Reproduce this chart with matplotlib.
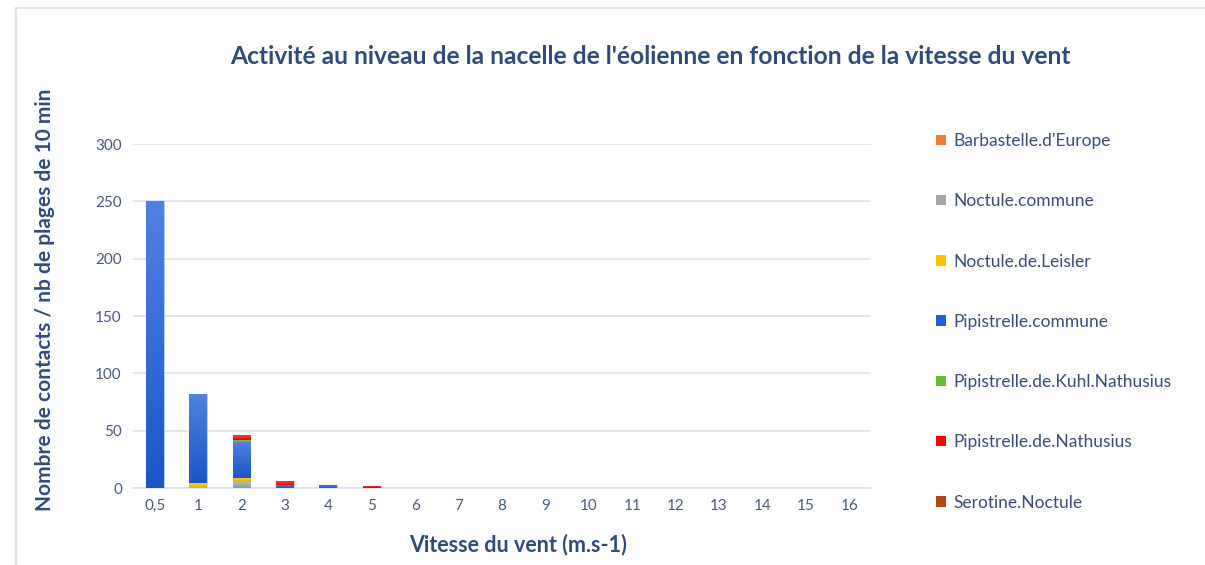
import matplotlib
matplotlib.use("Agg")
import matplotlib.pyplot as plt
import numpy as np
from matplotlib.patches import Rectangle
from matplotlib.colors import to_rgb

plt.rcParams['font.family'] = ['Lato', 'DejaVu Sans']

categories = ["0,5", "1", "2", "3", "4", "5", "6", "7", "8", "9", "10",
              "11", "12", "13", "14", "15", "16"]
species = ["Barbastelle.d'Europe", "Noctule.commune", "Noctule.de.Leisler",
           "Pipistrelle.commune", "Pipistrelle.de.Kuhl.Nathusius",
           "Pipistrelle.de.Nathusius", "Serotine.Noctule"]
barbastelle = [0, 0, 0, 0, 0, 0, 0, 0, 0, 0, 0, 0, 0, 0, 0, 0, 0]
noctule_commune = [0, 0, 5, 0, 0, 0, 0, 0, 0, 0, 0, 0, 0, 0, 0, 0, 0]
noctule_leisler = [0, 4, 4, 0, 0, 0, 0, 0, 0, 0, 0, 0, 0, 0, 0, 0, 0]
pipistrelle_commune = [250, 78, 31, 3, 2, 0, 0, 0, 0, 0, 0, 0, 0, 0, 0, 0, 0]
pipistrelle_kuhl = [0, 0, 2, 0, 0, 0, 0, 0, 0, 0, 0, 0, 0, 0, 0, 0, 0]
pipistrelle_nathusius = [0, 0, 3, 2, 0, 2, 0, 0, 0, 0, 0, 0, 0, 0, 0, 0, 0]
serotine = [0, 0, 1, 1, 1, 0, 0, 0, 0, 0, 0, 0, 0, 0, 0, 0, 0]
yticks = [0, 50, 100, 150, 200, 250, 300]

series = [barbastelle, noctule_commune, noctule_leisler, pipistrelle_commune,
          pipistrelle_kuhl, pipistrelle_nathusius, serotine]
colors = ["#ED7D31", "#A5A5A5", "#FFC000", "#1F5ED6", "#6CBE2C", "#FF0000", "#AE4A10"]

fig = plt.figure(figsize=(12.05, 5.65), dpi=100)
ax = fig.add_axes([133 / 1205, 1 - 488 / 565, (871 - 133) / 1205, (488 - 144) / 565])

x = np.arange(len(categories))
bottom = np.zeros(len(categories))
handles = []
for vals, col, name in zip(series, colors, species):
    v = np.array(vals, dtype=float)
    bars = ax.bar(x, v, width=0.41, bottom=bottom, color=col, edgecolor="#c3d4f3",
                  linewidth=0.6, label=name, zorder=3)
    # vertical gradient (lighter at top), clipped to each bar
    base = np.array(to_rgb(col))
    light = base + (1 - base) * 0.22
    dark = base * 0.92
    grad = np.linspace(0, 1, 64)[:, None, None]
    img = dark * (1 - grad) + light * grad
    for p in bars.patches:
        if p.get_height() <= 0:
            continue
        x0, y0 = p.get_x(), p.get_y()
        im = ax.imshow(img, extent=(x0, x0 + p.get_width(), y0, y0 + p.get_height()),
                       origin='lower', aspect='auto', zorder=3.5, interpolation='bilinear')
        im.set_clip_path(p)
    bottom += v
    handles.append(Rectangle((0, 0), 1, 1, facecolor=col, edgecolor="none"))

ax.set_xlim(-0.5, len(categories) - 0.5)
ax.set_ylim(0, 300)
ax.set_yticks(yticks)
ax.set_xticks(x)
ax.set_xticklabels(categories)
ax.grid(axis='y', color="#d9e2f1", linewidth=1.2, zorder=0)
for s in ["top", "right", "left"]:
    ax.spines[s].set_visible(False)
ax.spines["bottom"].set_color("#d9e2f1")
ax.spines["bottom"].set_linewidth(1.2)
ax.tick_params(axis='both', length=0, labelsize=11, colors="#4a5a7c")
ax.tick_params(axis='y', pad=8)
ax.tick_params(axis='x', pad=8)

title_col = "#2f4b7c"
fig.text(650 / 1205, 1 - 56 / 565, "Activité au niveau de la nacelle de l'éolienne en fonction de la vitesse du vent",
         ha='center', va='center', fontsize=17.7, fontweight='bold', color=title_col)
fig.text(45 / 1205, 1 - 300 / 565, "Nombre de contacts / nb de plages de 10 min",
         ha='center', va='center', rotation=90, fontsize=15, fontweight='bold', color=title_col)
fig.text(518 / 1205, 1 - 545 / 565, "Vitesse du vent (m.s-1)",
         ha='center', va='center', fontsize=15.5, fontweight='bold', color=title_col)

leg = fig.legend(handles, species, loc='upper left',
                 bbox_to_anchor=(936 / 1205, 1 - 133 / 565), frameon=False,
                 fontsize=12.5, handlelength=0.55, handleheight=0.55, handletextpad=0.45,
                 labelspacing=2.55, borderaxespad=0, borderpad=0)
for t in leg.get_texts():
    t.set_color("#3a4d78")

# outer frame
fig.add_artist(plt.Line2D([16 / 1205, 16 / 1205], [0, 1 - 8 / 565], transform=fig.transFigure,
                          color="#dbe3f0", linewidth=1.5))
fig.add_artist(plt.Line2D([16 / 1205, 1], [1 - 8 / 565, 1 - 8 / 565], transform=fig.transFigure,
                          color="#dbe3f0", linewidth=1.5))

fig.savefig("out.png", dpi=100)
